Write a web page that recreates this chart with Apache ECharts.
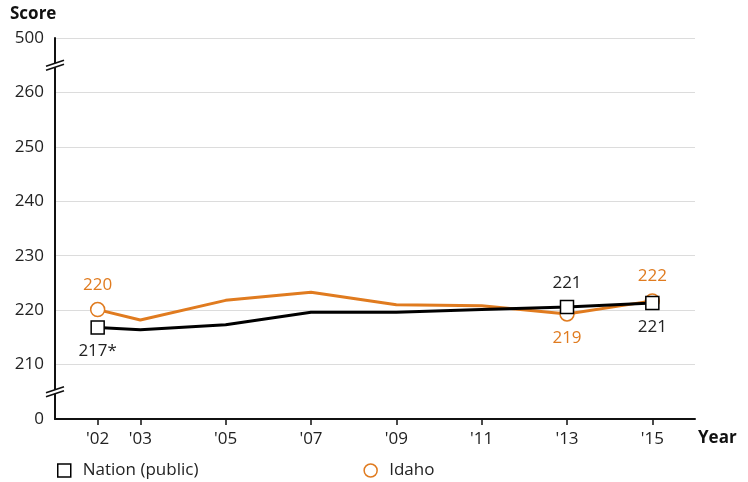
<!DOCTYPE html>
<html><head><meta charset="utf-8">
<script src="https://cdn.jsdelivr.net/npm/echarts@6/dist/echarts.min.js"></script>
<style>html,body{margin:0;padding:0;background:#fff}#c{width:748px;height:482px}</style>
</head><body><div id="c"></div>
<script>
// Years with assessments
const years = [2002, 2003, 2005, 2007, 2009, 2011, 2013, 2015];
const yearLabels = ["'02", "'03", "'05", "'07", "'09", "'11", "'13", "'15"];
// Scores (y-axis is broken: 0 and 500 shown at ends)
const nationScores = [216.8, 216.4, 217.3, 219.6, 219.6, 220.1, 220.6, 221.3];
const idahoScores  = [220.1, 218.2, 221.8, 223.3, 221.0, 220.8, 219.3, 221.7];
// Labeled/marked points
const nationLabels = {2002: "217*", 2013: "221", 2015: "221"};
const nationLabelPos = {2002: "bottom", 2013: "top", 2015: "bottom"};
const idahoLabels = {2002: "220", 2013: "219", 2015: "222"};
const idahoLabelPos = {2002: "top", 2013: "bottom", 2015: "top"};
// Y axis tick labels (200 -> 0, 270 -> 500 on the broken scale)
const yTickLabels = {200: "0", 210: "210", 220: "220", 230: "230", 240: "240", 250: "250", 260: "260", 270: "500"};
const breakValues = [205, 265];

const ORANGE = '#e07b1f';
const FONT = '"Open Sans", "Noto Sans", sans-serif';

function buildData(scores, labels, pos, color, sym) {
  return years.map((y, i) => {
    const marked = labels[y] !== undefined;
    return {
      value: [y, scores[i]],
      symbol: marked ? sym : 'none',
      label: marked ? {show: true, position: pos[y], formatter: labels[y], distance: 8,
        color: color, fontSize: 17, fontFamily: FONT} : {show: false}
    };
  });
}

const chart = echarts.init(document.getElementById('c'));
chart.setOption({
  animation: false,
  textStyle: {fontFamily: FONT},
  grid: {left: 55, right: 53, top: 38, bottom: 63},
  xAxis: {
    type: 'value', min: 2001, max: 2016, interval: 1,
    splitLine: {show: false},
    axisLine: {lineStyle: {color: '#111', width: 2}},
    axisTick: {show: true, customValues: years, length: 6, inside: false, lineStyle: {color: '#111', width: 1.5}},
    axisLabel: {customValues: years, formatter: v => yearLabels[years.indexOf(v)], color: '#222', fontSize: 17, margin: 12}
  },
  yAxis: {
    type: 'value', min: 200, max: 270, interval: 10,
    axisLine: {show: true, lineStyle: {color: '#111', width: 2}},
    axisTick: {show: false},
    splitLine: {show: true, lineStyle: {color: '#dcdcdc', width: 1}},
    axisLabel: {formatter: v => yTickLabels[v] || '', color: '#222', fontSize: 17, margin: 11}
  },
  legend: {
    left: 57, top: 462, padding: 0, itemGap: 165, itemWidth: 13, itemHeight: 13,
    textStyle: {color: '#222', fontSize: 17, fontFamily: FONT, padding: [0, 0, 0, 7]},
    data: [
      {name: 'Nation (public)', icon: 'rect', itemStyle: {color: '#fff', borderColor: '#000', borderWidth: 1.5}},
      {name: 'Idaho', icon: 'circle', itemStyle: {color: '#fff', borderColor: ORANGE, borderWidth: 1.5}}
    ]
  },
  graphic: [
    {type: 'text', left: 10, top: 6, style: {text: 'Score', fill: '#111', font: 'bold 17px "Open Sans"'}},
    {type: 'text', left: 698, top: 430, style: {text: 'Year', fill: '#111', font: 'bold 17px "Open Sans"'}}
  ],
  series: [
    {
      name: 'Idaho', type: 'line', z: 2,
      data: buildData(idahoScores, idahoLabels, idahoLabelPos, ORANGE, 'circle'),
      symbolSize: 14,
      lineStyle: {color: ORANGE, width: 3},
      itemStyle: {color: '#fff', borderColor: ORANGE, borderWidth: 1.5}
    },
    {
      name: 'Nation (public)', type: 'line', z: 3,
      data: buildData(nationScores, nationLabels, nationLabelPos, '#222', 'rect'),
      symbolSize: 13,
      lineStyle: {color: '#000', width: 3},
      itemStyle: {color: '#fff', borderColor: '#000', borderWidth: 1.5}
    },
    {
      type: 'custom', z: 10, silent: true, clip: false,
      data: breakValues.map(v => [2001, v]),
      renderItem: function (params, api) {
        const p = api.coord([api.value(0), api.value(1)]);
        const x = p[0], y = p[1];
        return {
          type: 'group',
          children: [
            {type: 'polygon', shape: {points: [[x - 9, y + 1], [x + 9, y - 5], [x + 9, y - 1], [x - 9, y + 5]]}, style: {fill: '#fff'}},
            {type: 'line', shape: {x1: x - 9, y1: y + 1, x2: x + 9, y2: y - 5}, style: {stroke: '#111', lineWidth: 1.5}},
            {type: 'line', shape: {x1: x - 9, y1: y + 5, x2: x + 9, y2: y - 1}, style: {stroke: '#111', lineWidth: 1.5}}
          ]
        };
      }
    }
  ]
});
</script></body></html>
